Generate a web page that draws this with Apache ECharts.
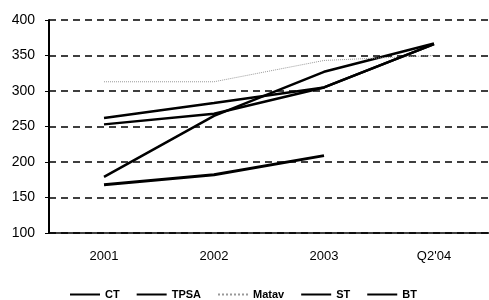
<!DOCTYPE html>
<html lang="en">
<head>
    <meta charset="UTF-8">
    <title>Chart</title>
    <script src="https://cdn.jsdelivr.net/npm/echarts@6/dist/echarts.min.js"></script>
    <style>
        body { margin: 0; background: #fff; }
    </style>
</head>
<body>
<div id="myChart" style="width: 489px;height: 300px;"></div>

<script>
    var categories = ['2001', '2002', '2003', "Q2'04"];
    var ct = [179, 265, 327, 367];
    var tpsa = [168, 182, 209, null];
    var matav = [313, 313, 343, 350];
    var st = [262, 283, 305, 366];
    var bt = [253, 268, 305, 366];

    var myChart = echarts.init(document.getElementById('myChart'));

    function line(name, data, width, type, color) {
        return {
            name: name,
            type: 'line',
            data: data,
            symbol: 'none',
            lineStyle: { width: width, type: type, color: color },
            itemStyle: { color: color }
        };
    }

    var option = {
        animation: false,
        textStyle: { fontFamily: 'Liberation Sans, Arial, sans-serif' },
        grid: {
            left: 49,
            right: 0,
            top: 20,
            bottom: 67
        },
        legend: {
            left: 64,
            top: 284,
            itemWidth: 30,
            itemHeight: 10,
            itemGap: 16,
            itemStyle: { opacity: 0 },
            textStyle: { fontSize: 11, color: '#000', fontWeight: 'bold' },
            data: ['CT', 'TPSA', 'Matav', 'ST', 'BT']
        },
        xAxis: {
            type: 'category',
            boundaryGap: true,
            data: categories,
            axisLine: { lineStyle: { color: '#000', width: 1.5 } },
            axisTick: { length: 4, lineStyle: { color: '#000' } },
            axisLabel: { color: '#000', fontSize: 13, margin: 17 }
        },
        yAxis: {
            type: 'value',
            min: 100,
            max: 400,
            interval: 50,
            axisLine: { show: true, lineStyle: { color: '#000', width: 2 } },
            axisTick: { show: true, length: 4, lineStyle: { color: '#000' } },
            axisLabel: { color: '#000', fontSize: 14, margin: 14 },
            splitLine: { lineStyle: { color: '#000', width: 1.5, type: [7, 5] } }
        },
        series: [
            line('CT', ct, 2.5, 'solid', '#000'),
            line('TPSA', tpsa, 3, 'solid', '#000'),
            line('Matav', matav, 1, 'dotted', '#999'),
            line('ST', st, 2.5, 'solid', '#000'),
            line('BT', bt, 2.5, 'solid', '#000')
        ]
    };

    myChart.setOption(option);
</script>
</body>
</html>
